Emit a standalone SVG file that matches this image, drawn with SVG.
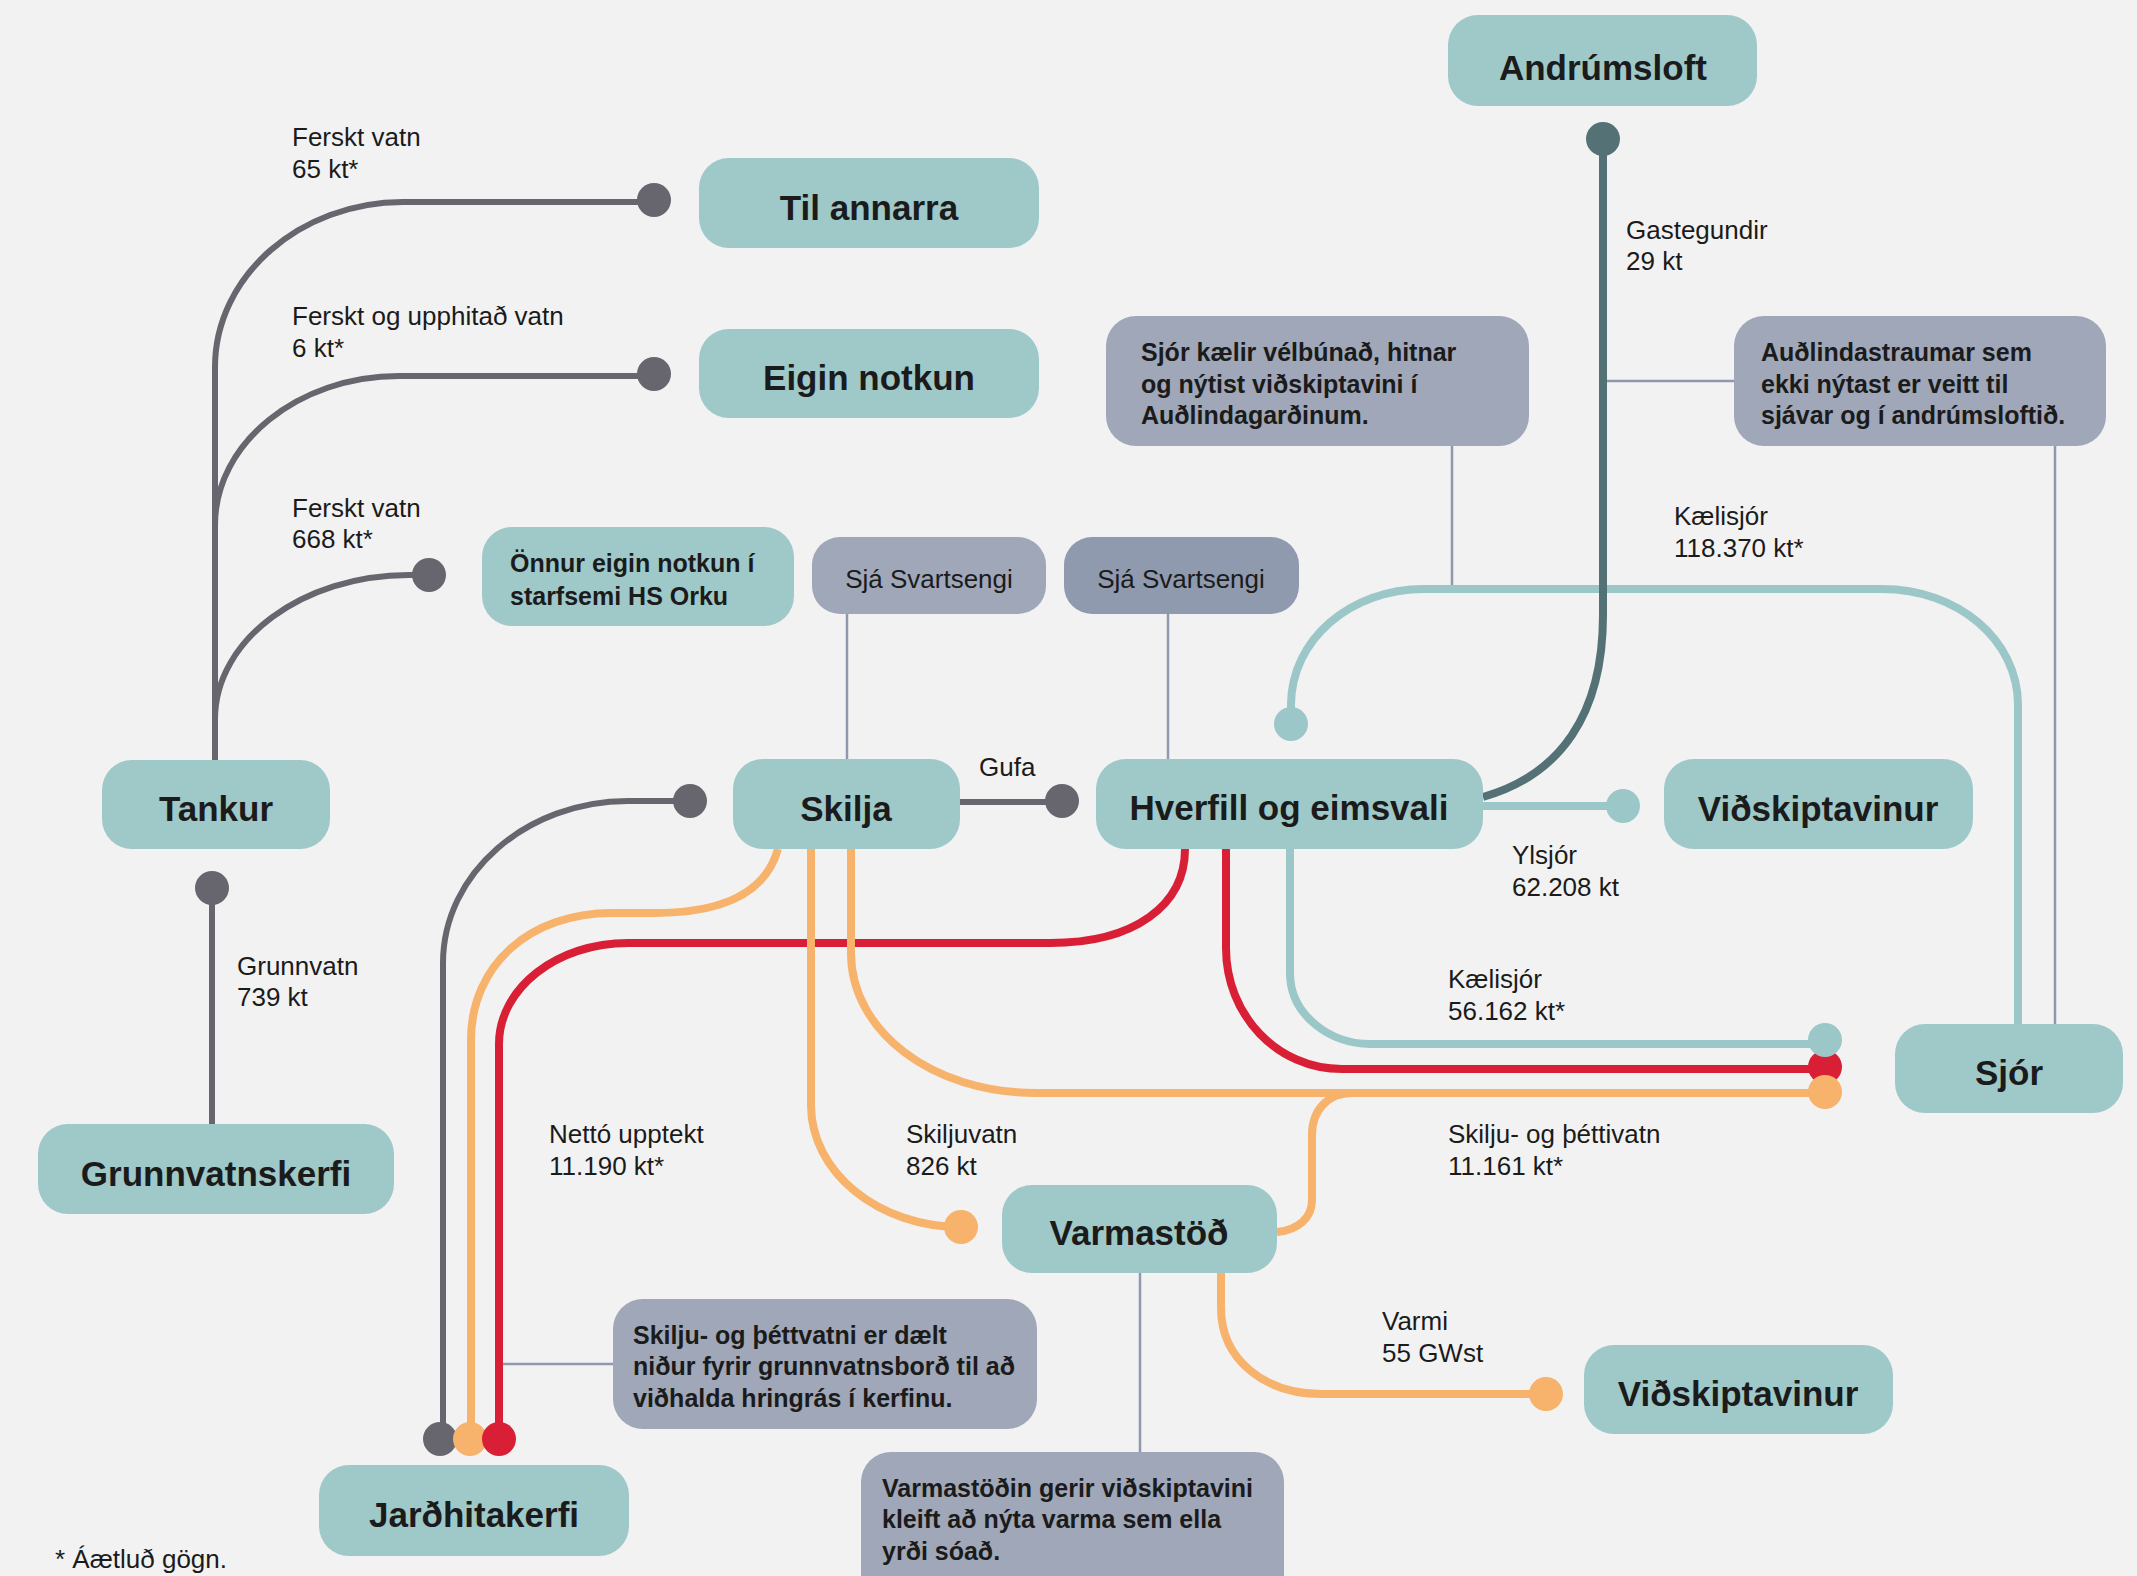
<svg xmlns="http://www.w3.org/2000/svg" width="2137" height="1576" viewBox="0 0 2137 1576">
<style>
.bg{fill:#f2f2f2}
.node{fill:#9fc8c9}
.call{fill:#9fa7b8}
.call2{fill:#8f9aae}
.nt{font-family:"Liberation Sans",Arial,sans-serif;font-weight:700;font-size:35px;fill:#1b1b1b;text-anchor:middle}
.ct{font-family:"Liberation Sans",Arial,sans-serif;font-weight:700;font-size:25px;fill:#1b1b1b}
.st{font-family:"Liberation Sans",Arial,sans-serif;font-size:26px;fill:#1b1b1b;text-anchor:middle}
.lb{font-family:"Liberation Sans",Arial,sans-serif;font-size:26px;fill:#1b1b1b}
.g{fill:none;stroke:#67656d;stroke-width:6}
.o{fill:none;stroke:#f7b26b;stroke-width:8}
.r{fill:none;stroke:#d91f36;stroke-width:8}
.t{fill:none;stroke:#9cc7c8;stroke-width:8}
.d{fill:none;stroke:#547275;stroke-width:8}
.thin{fill:none;stroke:#8e99ae;stroke-width:2.5}
.gd{fill:#67656d}
.od{fill:#f7b26b}
.rd{fill:#d91f36}
.td{fill:#9cc7c8}
.dd{fill:#547275}
</style>
<rect class="bg" x="0" y="0" width="2137" height="1576"/>

<g id="connectors">
  <path class="thin" d="M847,614 V760"/>
  <path class="thin" d="M1168,614 V759"/>
  <path class="thin" d="M1452,446 V589"/>
  <path class="thin" d="M1607,381 H1734"/>
  <path class="thin" d="M2055,446 V1024"/>
  <path class="thin" d="M503,1364 H613"/>
  <path class="thin" d="M1140,1273 V1452"/>

  <path class="g" d="M215,760 V367 C215,276 300,202 403,202 H654"/>
  <path class="g" d="M215,560 V525 C215,443 298,376 399,376 H654"/>
  <path class="g" d="M215,760 V719 C215,640 302,575 409,575 H429"/>
  <circle class="gd" cx="654" cy="200" r="17"/>
  <circle class="gd" cx="654" cy="374" r="17"/>
  <circle class="gd" cx="429" cy="575" r="17"/>

  <path class="g" d="M212,888 V1124"/>
  <circle class="gd" cx="212" cy="888" r="17"/>

  <path class="g" d="M960,802 H1062"/>
  <circle class="gd" cx="1062" cy="801" r="17"/>

  <path class="g" d="M443,1439 V963 C443,873 527,801 628,801 H690"/>
  <circle class="gd" cx="690" cy="801" r="17"/>

  <path class="t" d="M1291,724 V705 C1291,640 1350,589 1424,589 H1882 C1958,589 2018,640 2018,705 V1024"/>
  <circle class="td" cx="1291" cy="724" r="17"/>

  <path class="d" d="M1603,139 V615 C1603,715 1560,775 1483,797"/>
  <circle class="dd" cx="1603" cy="139" r="17"/>

  <path class="t" d="M1483,806 H1623"/>
  <circle class="td" cx="1623" cy="806" r="17"/>

  <path class="o" d="M778,849 C765,895 720,913 655,913 H612 C530,913 471,965 471,1040 V1439"/>
  <path class="r" d="M1185,849 C1185,905 1135,943 1050,943 H628 C557,943 499,988 499,1044 V1439"/>

  <path class="o" d="M811,849 V1105 C811,1172 878,1227 961,1227"/>
  <circle class="od" cx="961" cy="1227" r="17"/>

  <path class="o" d="M851,849 V953 C851,1030 930,1093 1037,1093 H1825"/>
  <path class="o" d="M1352,1093 C1328,1093 1312,1110 1312,1135 V1200 C1312,1218 1298,1230 1277,1232"/>

  <path class="r" d="M1226,849 V948 C1226,1015 1277,1069 1342,1069 H1825"/>
  <path class="t" d="M1290,849 V973 C1290,1015 1330,1044 1370,1044 H1825"/>
  <circle class="rd" cx="1825" cy="1067" r="17"/>
  <circle class="td" cx="1825" cy="1040" r="17"/>
  <circle class="od" cx="1825" cy="1092" r="17"/>

  <path class="o" d="M1221,1273 V1308 C1221,1360 1265,1394 1322,1394 H1546"/>
  <circle class="od" cx="1546" cy="1394" r="17"/>

  <circle class="gd" cx="440" cy="1439" r="17"/>
  <circle class="od" cx="470" cy="1439" r="17"/>
  <circle class="rd" cx="499" cy="1439" r="17"/>
</g>

<g id="labels">
  <text class="lb" x="292" y="146">Ferskt vatn</text>
  <text class="lb" x="292" y="178">65 kt*</text>
  <text class="lb" x="292" y="325">Ferskt og upphitað vatn</text>
  <text class="lb" x="292" y="357">6 kt*</text>
  <text class="lb" x="292" y="517">Ferskt vatn</text>
  <text class="lb" x="292" y="548">668 kt*</text>
  <text class="lb" x="237" y="975">Grunnvatn</text>
  <text class="lb" x="237" y="1006">739 kt</text>
  <text class="lb" x="979" y="776">Gufa</text>
  <text class="lb" x="549" y="1143">Nettó upptekt</text>
  <text class="lb" x="549" y="1175">11.190 kt*</text>
  <text class="lb" x="906" y="1143">Skiljuvatn</text>
  <text class="lb" x="906" y="1175">826 kt</text>
  <text class="lb" x="1512" y="864">Ylsjór</text>
  <text class="lb" x="1512" y="896">62.208 kt</text>
  <text class="lb" x="1448" y="988">Kælisjór</text>
  <text class="lb" x="1448" y="1020">56.162 kt*</text>
  <text class="lb" x="1448" y="1143">Skilju- og þéttivatn</text>
  <text class="lb" x="1448" y="1175">11.161 kt*</text>
  <text class="lb" x="1382" y="1330">Varmi</text>
  <text class="lb" x="1382" y="1362">55 GWst</text>
  <text class="lb" x="1626" y="239">Gastegundir</text>
  <text class="lb" x="1626" y="270">29 kt</text>
  <text class="lb" x="1674" y="525">Kælisjór</text>
  <text class="lb" x="1674" y="557">118.370 kt*</text>
  <text class="lb" x="55" y="1568">* Áætluð gögn.</text>
</g>

<g id="andrumsloft"><rect class="node" x="1448" y="15" width="309" height="91" rx="30"/><text class="nt" x="1603" y="80">Andrúmsloft</text></g>
<g id="til-annarra"><rect class="node" x="699" y="158" width="340" height="90" rx="30"/><text class="nt" x="869" y="220">Til annarra</text></g>
<g id="eigin-notkun"><rect class="node" x="699" y="329" width="340" height="89" rx="30"/><text class="nt" x="869" y="390">Eigin notkun</text></g>
<g id="onnur-eigin"><rect class="node" x="482" y="527" width="312" height="99" rx="30"/><text class="ct" x="510" y="572">Önnur eigin notkun í</text><text class="ct" x="510" y="605">starfsemi HS Orku</text></g>
<g id="sja-svartsengi-1"><rect class="call" x="812" y="537" width="234" height="77" rx="28"/><text class="st" x="929" y="588">Sjá Svartsengi</text></g>
<g id="sja-svartsengi-2"><rect class="call2" x="1064" y="537" width="235" height="77" rx="28"/><text class="st" x="1181" y="588">Sjá Svartsengi</text></g>
<g id="sjor-kaelir"><rect class="call" x="1106" y="316" width="423" height="130" rx="30"/><text class="ct" x="1141" y="361">Sjór kælir vélbúnað, hitnar</text><text class="ct" x="1141" y="393">og nýtist viðskiptavini í</text><text class="ct" x="1141" y="424">Auðlindagarðinum.</text></g>
<g id="audlindastraumar"><rect class="call" x="1734" y="316" width="372" height="130" rx="30"/><text class="ct" x="1761" y="361">Auðlindastraumar sem</text><text class="ct" x="1761" y="393">ekki nýtast er veitt til</text><text class="ct" x="1761" y="424">sjávar og í andrúmsloftið.</text></g>
<g id="tankur"><rect class="node" x="102" y="760" width="228" height="89" rx="30"/><text class="nt" x="216" y="821">Tankur</text></g>
<g id="skilja"><rect class="node" x="733" y="759" width="227" height="90" rx="30"/><text class="nt" x="846" y="821">Skilja</text></g>
<g id="hverfill"><rect class="node" x="1096" y="759" width="387" height="90" rx="30"/><text class="nt" x="1289" y="820">Hverfill og eimsvali</text></g>
<g id="vidskiptavinur-1"><rect class="node" x="1664" y="759" width="309" height="90" rx="30"/><text class="nt" x="1818" y="821">Viðskiptavinur</text></g>
<g id="sjor"><rect class="node" x="1895" y="1024" width="228" height="89" rx="30"/><text class="nt" x="2009" y="1085">Sjór</text></g>
<g id="grunnvatnskerfi"><rect class="node" x="38" y="1124" width="356" height="90" rx="30"/><text class="nt" x="216" y="1186">Grunnvatnskerfi</text></g>
<g id="varmastod"><rect class="node" x="1002" y="1185" width="275" height="88" rx="30"/><text class="nt" x="1139" y="1245">Varmastöð</text></g>
<g id="vidskiptavinur-2"><rect class="node" x="1584" y="1345" width="309" height="89" rx="30"/><text class="nt" x="1738" y="1406">Viðskiptavinur</text></g>
<g id="skilju-callout"><rect class="call" x="613" y="1299" width="424" height="130" rx="30"/><text class="ct" x="633" y="1344">Skilju- og þéttvatni er dælt</text><text class="ct" x="633" y="1375">niður fyrir grunnvatnsborð til að</text><text class="ct" x="633" y="1407">viðhalda hringrás í kerfinu.</text></g>
<g id="jardhitakerfi"><rect class="node" x="319" y="1465" width="310" height="91" rx="30"/><text class="nt" x="474" y="1527">Jarðhitakerfi</text></g>
<g id="varmastod-callout"><rect class="call" x="861" y="1452" width="423" height="160" rx="30"/><text class="ct" x="882" y="1497">Varmastöðin gerir viðskiptavini</text><text class="ct" x="882" y="1528">kleift að nýta varma sem ella</text><text class="ct" x="882" y="1560">yrði sóað.</text></g>
</svg>
